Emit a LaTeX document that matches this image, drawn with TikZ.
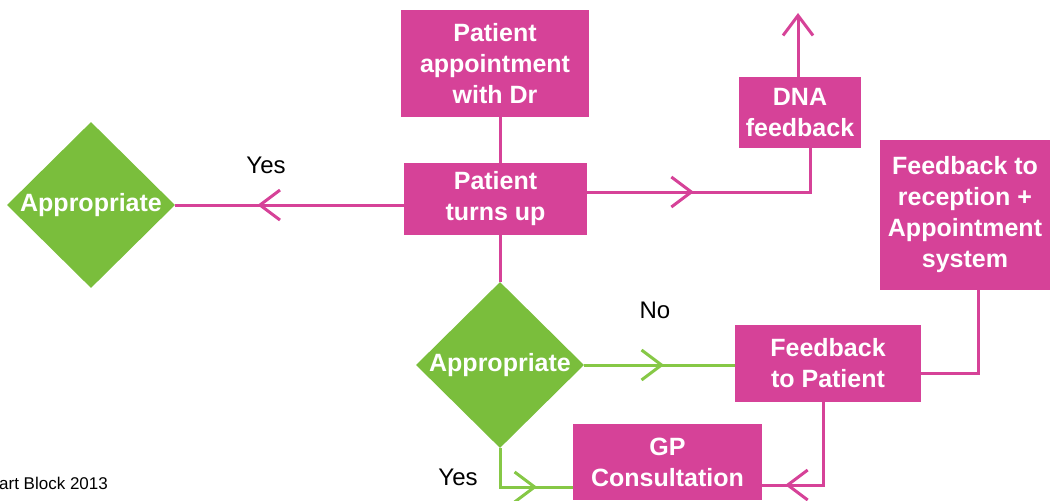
\documentclass[tikz,border=0pt]{standalone}
\usepackage{fontspec}
\setmainfont{Liberation Sans}
\usetikzlibrary{shapes.geometric,arrows.meta,decorations.markings}

\definecolor{pinkbox}{RGB}{214,66,152}
\definecolor{greenbox}{RGB}{122,190,60}
\definecolor{greenline}{RGB}{134,200,70}

\tikzset{
  box/.style={rectangle, fill=pinkbox, text=white, align=center, inner sep=2pt,
    font=\fontsize{25}{31}\selectfont\bfseries},
  decide/.style={diamond, fill=greenbox, text=white, inner sep=0pt, aspect=1,
    minimum width=168pt, minimum height=166pt, font=\fontsize{25}{31}\selectfont\bfseries},
  pinkline/.style={color=pinkbox, line width=3pt},
  greenl/.style={color=greenline, line width=3pt},
  barb/.style={-{Straight Barb[length=20pt,width=30pt]}},
  midarrow/.style={postaction={decorate,decoration={markings,
    mark=at position #1 with {\arrow{Straight Barb[length=20pt,width=30pt]}}}}},
  note/.style={font=\fontsize{24}{28}\selectfont}
}

\begin{document}
\begin{tikzpicture}[x=1pt,y=-1pt]
\useasboundingbox (0,0) rectangle (1056,500);
\clip (0,0) rectangle (1056,500);

% boxes
\node[box, minimum width=188pt, minimum height=107pt] (appt) at (495,63.5) {Patient\\appointment\\with Dr};
\node[box, minimum width=183pt, minimum height=72pt] (turns) at (495.5,199) {Patient\\turns up};
\node[box, minimum width=122pt, minimum height=71pt] (dna) at (800,112.5) {DNA\\feedback};
\node[box, minimum width=170pt, minimum height=150pt] (fbr) at (965,215) {Feedback to\\reception +\\Appointment\\system};
\node[box, minimum width=186pt, minimum height=77pt] (fbp) at (828,363.5) {Feedback\\to Patient};
\node[box, minimum width=189pt, minimum height=76pt] (gp) at (667.5,462) {GP\\Consultation};

% decisions
\node[decide] (app1) at (91,205) {Appropriate};
\node[decide] (app2) at (500,365) {Appropriate};

% labels
\node[note] (yes1) at (266,165) {Yes};
\node[note] (no) at (655,310) {No};
\node[note] (yes2) at (458,477) {Yes};
\node[font=\fontsize{17}{20}\selectfont, anchor=west, inner sep=0pt] (credit) at (-1,483) {art Block 2013};

% pink connectors
\draw[pinkline] (appt.south -| app2.north) -- (turns.north -| app2.north);
\draw[pinkline] (turns.south -| app2.north) -- (app2.north);
\draw[pinkline, midarrow=0.64] (turns.west |- app1.east) -- (app1.east);
\draw[pinkline, midarrow=0.40] ([yshift=7pt]turns.east) -- ([yshift=7pt]turns.east -| 810,0) -- (dna.south -| 810,0);
\coordinate (dnaout) at (798,13);
\draw[pinkline, barb] (dna.north -| dnaout) -- (dnaout);
\draw[pinkline] ([yshift=-10pt]fbp.east) -- ([yshift=-10pt]fbp.east -| 978,0) -- (fbr.south -| 978,0);
\draw[pinkline, midarrow=0.84] (fbp.south -| 823,0) -- (823,485) -- (gp.east |- 823,485);

% green connectors
\draw[greenl, midarrow=0.53] (app2.east) -- (fbp.west |- app2.east);
\draw[greenl, midarrow=0.68] (app2.south) -- (500,487) -- (gp.west |- 500,487);
\end{tikzpicture}
\end{document}
